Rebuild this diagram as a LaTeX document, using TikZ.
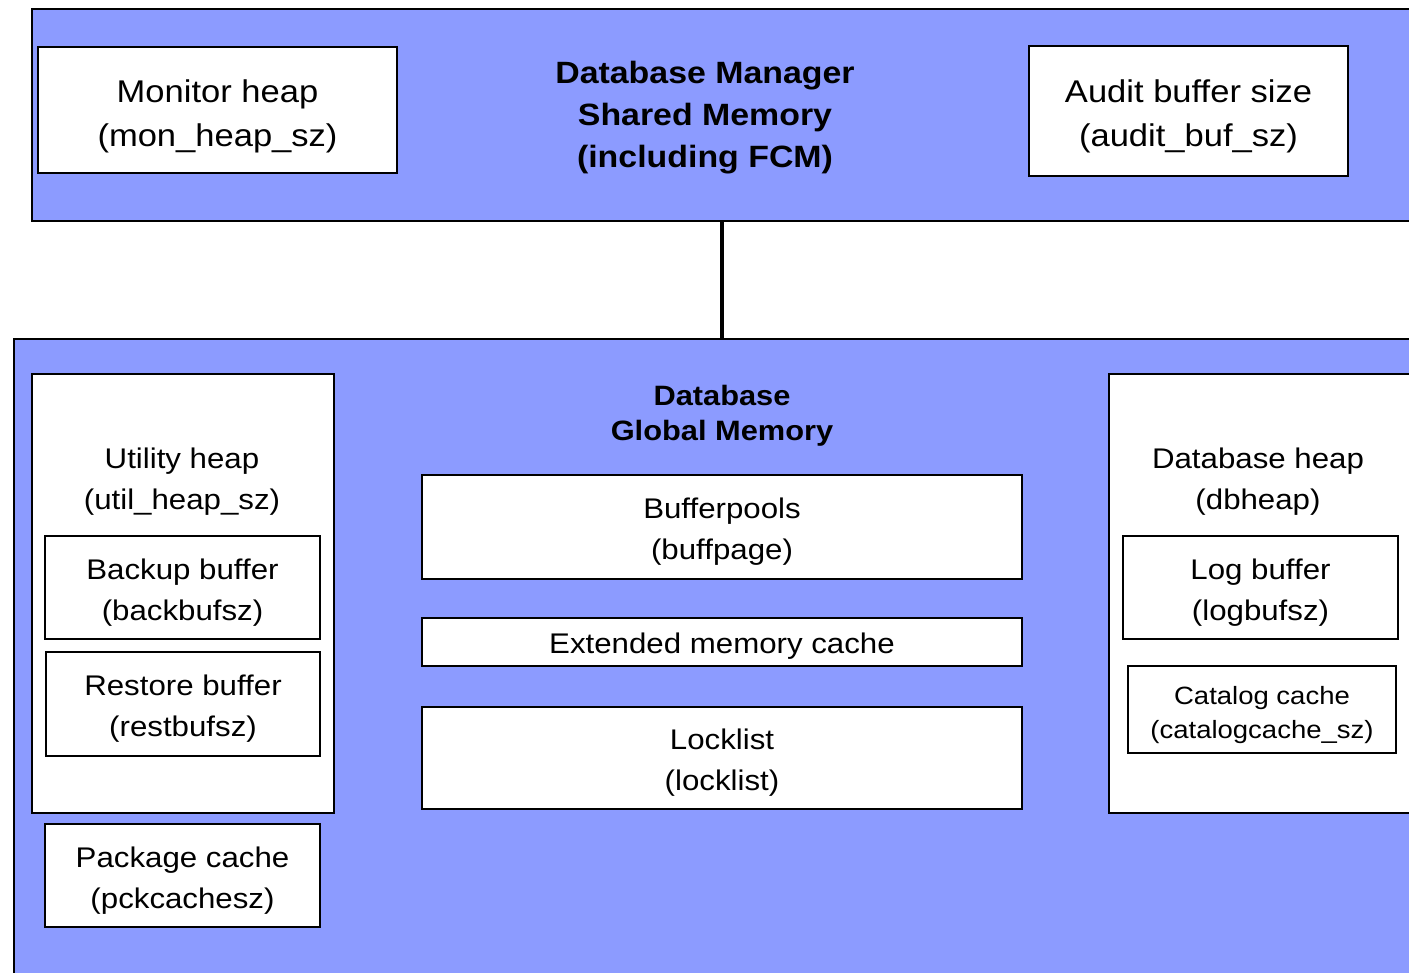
\documentclass[tikz,border=0pt]{standalone}
\usepackage{fontspec}
\setmainfont{Liberation Sans}[FakeStretch=1.1]
\definecolor{memblue}{RGB}{140,155,255}
\tikzset{
  panel/.style={draw=black, line width=1pt, fill=memblue, anchor=north west, inner sep=0pt},
  box/.style={draw=black, line width=1pt, fill=white, anchor=north west, inner sep=0pt},
  txt/.style={align=center, inner sep=0pt, font=\fontsize{14.2}{20.5}\selectfont},
  toptxt/.style={txt, font=\fontsize{15.7}{22}\selectfont},
  smalltxt/.style={txt, font=\fontsize{12.5}{17}\selectfont},
  title/.style={align=center, inner sep=0pt, font=\bfseries\fontsize{15.4}{21}\selectfont},
  subtitle/.style={align=center, inner sep=0pt, font=\bfseries\fontsize{14}{17.5}\selectfont},
  link/.style={draw=black, line width=1.8pt},
}
\begin{document}
\begin{tikzpicture}[x=0.5pt, y=-0.5pt]
\useasboundingbox (0,0) rectangle (1409,973);
\clip (0,0) rectangle (1409,973);

% Database manager shared memory
\node[panel, minimum width=694.5pt, minimum height=106pt] (dbm) at (31,8) {};
\node[box, minimum width=179.5pt, minimum height=63pt] (mon) at (37,46) {};
\node[toptxt] (montext) at ([yshift=-3pt]mon.center) {Monitor heap\\(mon\_heap\_sz)};
\node[box, minimum width=159.5pt, minimum height=65pt] (audit) at (1028,45) {};
\node[toptxt] (audittext) at ([yshift=-2.5pt]audit.center) {Audit buffer size\\(audit\_buf\_sz)};
\node[title] (dbmtitle) at (705,118)
  {Database Manager\\Shared Memory\\(including FCM)};

% Database global memory
\node[panel, minimum width=703.5pt, minimum height=323.5pt] (dbg) at (13,338) {};
\node[subtitle] (dbgtitle) at (722,416)
  {Database\\Global Memory};

% Utility heap with its buffers
\node[box, minimum width=151pt, minimum height=219.5pt] (util) at (31,373) {};
\node[txt] (utiltext) at (182,482) {Utility heap\\(util\_heap\_sz)};
\node[box, minimum width=137.5pt, minimum height=51.5pt] (backup) at (44,535) {};
\node[txt] (backuptext) at ([yshift=-2.5pt]backup.center) {Backup buffer\\(backbufsz)};
\node[box, minimum width=137pt, minimum height=52pt] (restore) at (45,651) {};
\node[txt] (restoretext) at ([yshift=-2.5pt]restore.center) {Restore buffer\\(restbufsz)};
\node[box, minimum width=137.5pt, minimum height=51.5pt] (package) at (44,823) {};
\node[txt] (packagetext) at ([yshift=-2.5pt]package.center) {Package cache\\(pckcachesz)};

% Centre column
\node[box, minimum width=300pt, minimum height=52pt] (bufferpools) at (421,474) {};
\node[txt] (bufferpoolstext) at ([yshift=-2.5pt]bufferpools.center) {Bufferpools\\(buffpage)};
\node[box, minimum width=300pt, minimum height=24pt] (extmem) at (421,617) {};
\node[txt] (extmemtext) at ([yshift=-2pt]extmem.center) {Extended memory cache};
\node[box, minimum width=300pt, minimum height=51pt] (locklist) at (421,706) {};
\node[txt] (locklisttext) at ([yshift=-2.5pt]locklist.center) {Locklist\\(locklist)};

% Database heap with its buffers
\node[box, minimum width=160pt, minimum height=219.5pt] (dbheap) at (1108,373) {};
\node[txt] (dbheaptext) at (1258,482) {Database heap\\(dbheap)};
\node[box, minimum width=137.5pt, minimum height=51.5pt] (logbuf) at (1122,535) {};
\node[txt] (logbuftext) at ([yshift=-2.5pt]logbuf.center) {Log buffer\\(logbufsz)};
\node[box, minimum width=134pt, minimum height=43.5pt] (catalog) at (1127,665) {};
\node[smalltxt] (catalogtext) at ([yshift=-3pt]catalog.center) {Catalog cache\\(catalogcache\_sz)};

% Link between the two memory areas
\draw[link] (dbgtitle |- dbm.south) -- (dbgtitle |- dbg.north);
\end{tikzpicture}
\end{document}
